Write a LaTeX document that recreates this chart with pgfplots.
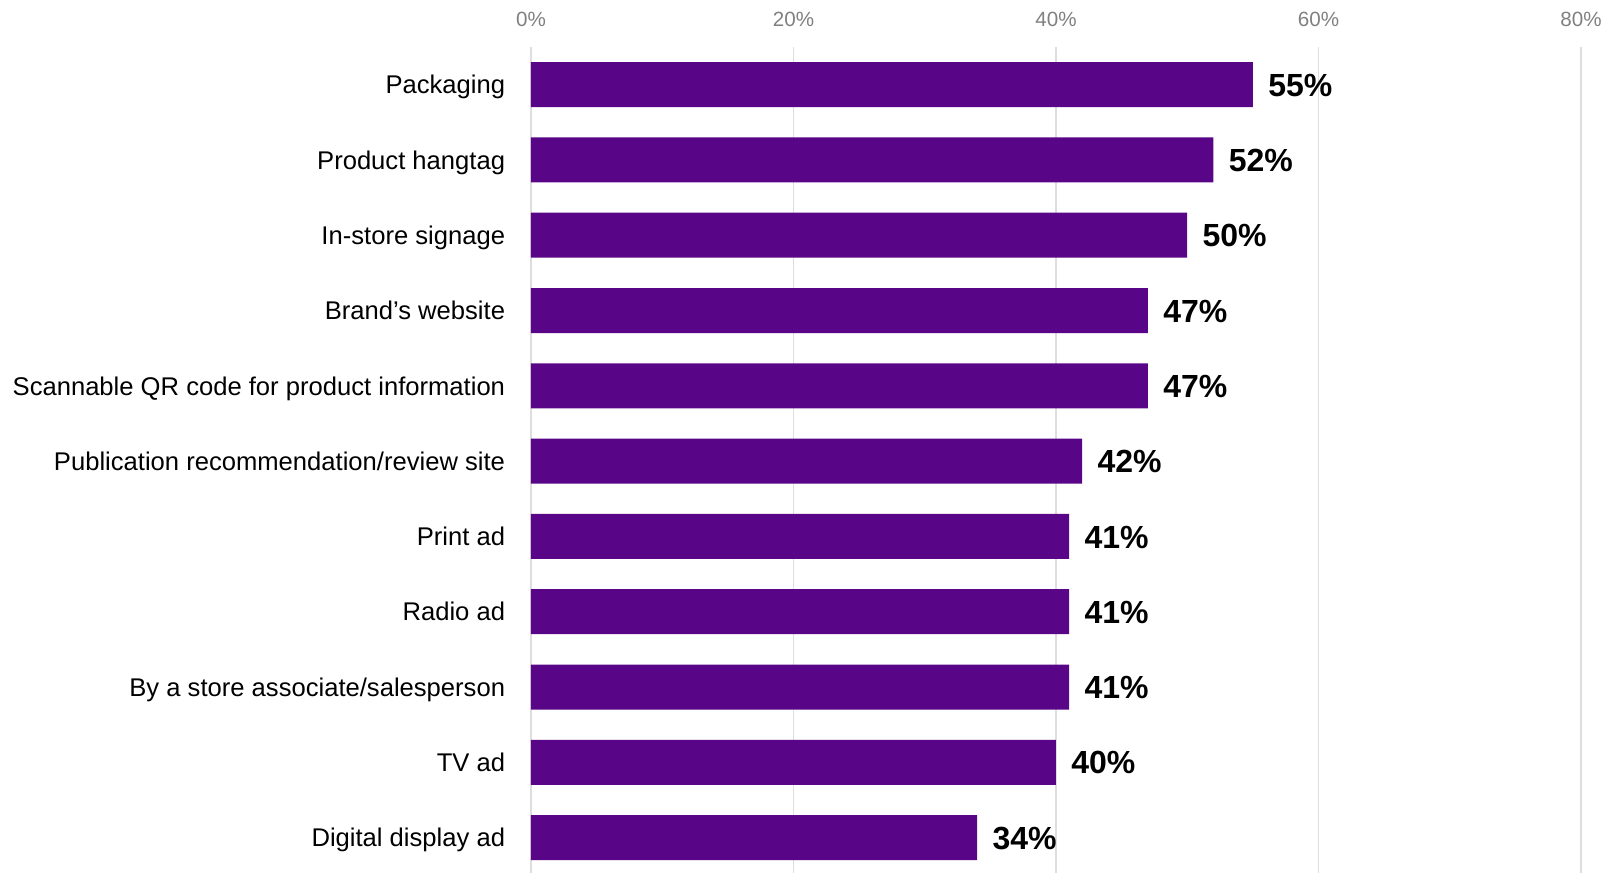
\documentclass[border=0pt]{standalone}
\usepackage{pgfplots}
\pgfplotsset{compat=1.18}
\usepackage{fontspec}
\setmainfont{Liberation Sans}
\definecolor{barpurple}{RGB}{88,6,135}
\definecolor{gridgray}{RGB}{222,222,222}
\definecolor{tickgray}{RGB}{128,128,128}
\begin{document}
\begin{tikzpicture}
\begin{axis}[
  at={(0,0)}, anchor=south west,
  scale only axis, width=525pt, height=413pt,
  xmin=0, xmax=80, ymin=-0.47, ymax=10.5,
  xbar, bar width=22.5pt,
  /pgf/number format/assume math mode=true,
  axis line style={draw=none},
  tick style={draw=none},
  xticklabel pos=upper,
  xtick={0,20,40,60,80},
  xticklabel={\pgfmathprintnumber{\tick}\%},
  xticklabel style={text=tickgray, font=\fontsize{10.3}{12}\selectfont, yshift=6.8pt},
  xmajorgrids, grid style={gridgray, line width=0.8pt},
  ytick={0,1,2,3,4,5,6,7,8,9,10},
  yticklabels={Digital display ad, TV ad, By a store associate/salesperson, Radio ad, Print ad, Publication recommendation/review site, Scannable QR code for product information, Brand’s website, In-store signage, Product hangtag, Packaging},
  yticklabel style={font=\fontsize{12.8}{15}\selectfont, anchor=base east, inner sep=0pt, xshift=-8.5pt, yshift=-4.6pt},
  nodes near coords={\pgfmathprintnumber{\pgfplotspointmeta}\%},
  nodes near coords style={font=\bfseries\fontsize{16}{19}\selectfont, anchor=base west, inner sep=0pt, xshift=7.5pt, yshift=-5.8pt, text=black},
]
\addplot[draw=none, fill=barpurple] coordinates {
  (34,0) (40,1) (41,2) (41,3) (41,4) (42,5) (47,6) (47,7) (50,8) (52,9) (55,10)
};
\end{axis}
\pgfresetboundingbox
\useasboundingbox (-265.5pt,0) rectangle (541.5pt,436.5pt);
\end{tikzpicture}
\end{document}
